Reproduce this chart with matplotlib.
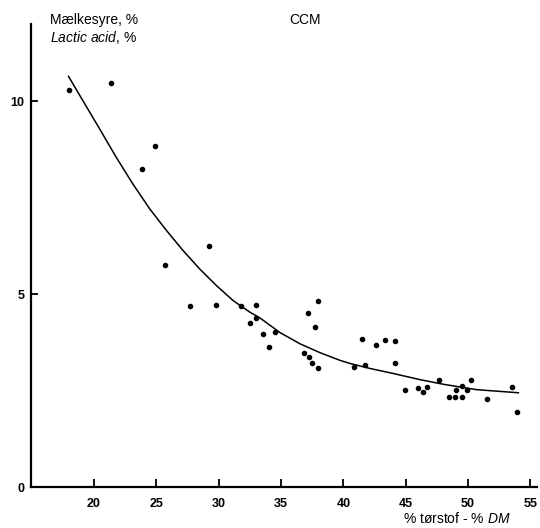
import matplotlib
matplotlib.use('Agg')
import matplotlib.pyplot as plt

plt.rcParams['font.family'] = ['Liberation Sans', 'DejaVu Sans']
plt.rcParams['mathtext.fontset'] = 'custom'
plt.rcParams['mathtext.rm'] = 'Liberation Sans'
plt.rcParams['mathtext.it'] = 'Liberation Sans:italic'

# Målinger: tørstof (%) og mælkesyre (%)
dm = [17.97, 21.40, 24.87, 23.83, 29.21, 25.67, 27.70, 29.77, 31.77, 33.03,
      32.98, 32.55, 33.57, 34.56, 34.02, 37.15, 37.98, 37.74, 36.83, 37.26,
      37.50, 37.93, 40.87, 41.75, 41.49, 42.58, 43.35, 44.11, 44.13, 44.91,
      45.98, 46.38, 46.70, 47.64, 48.49, 48.92, 49.03, 49.53, 49.51, 49.91,
      50.23, 51.52, 53.50, 53.90]
lactic = [10.30, 10.47, 8.85, 8.25, 6.26, 5.77, 4.69, 4.72, 4.69, 4.73,
          4.40, 4.26, 3.98, 4.03, 3.64, 4.51, 4.83, 4.16, 3.48, 3.37,
          3.22, 3.08, 3.11, 3.16, 3.85, 3.68, 3.81, 3.78, 3.22, 2.52,
          2.57, 2.47, 2.60, 2.78, 2.34, 2.33, 2.52, 2.33, 2.62, 2.51,
          2.79, 2.30, 2.59, 1.94]

# Tilpasset kurve
curve_x = [17.97, 19.12, 20.46, 21.80, 23.13, 24.47, 25.81, 27.14, 28.48,
           29.82, 31.16, 32.50, 33.31, 34.92, 36.52, 38.12, 39.73, 40.53,
           42.13, 43.99, 46.14, 48.01, 50.69, 54.03]
curve_y = [10.65, 10.02, 9.29, 8.55, 7.86, 7.22, 6.66, 6.14, 5.66,
           5.23, 4.84, 4.54, 4.39, 4.01, 3.72, 3.49, 3.29, 3.21,
           3.08, 2.95, 2.79, 2.67, 2.53, 2.45]

x_ticks = [20, 25, 30, 35, 40, 45, 50, 55]
y_ticks = [0, 5, 10]

fig = plt.figure(figsize=(5.4, 5.28), dpi=100)
ax = fig.add_axes([0.0583, 0.0771, 0.9356, 0.8769])

ax.plot(curve_x, curve_y, color='black', linewidth=1.1)
ax.scatter(dm, lactic, s=9, color='black', zorder=3)

ax.set_xlim(15, 55.5)
ax.set_ylim(0, 12)
ax.set_xticks(x_ticks)
ax.set_yticks(y_ticks)

for side in ['top', 'right']:
    ax.spines[side].set_visible(False)
ax.spines['left'].set_linewidth(1.6)
ax.spines['bottom'].set_linewidth(1.6)

ax.tick_params(axis='x', direction='in', length=6, width=1.3, pad=8,
               labelsize=9)
ax.tick_params(axis='y', direction='in', length=5, width=1.3, pad=5,
               labelsize=9)
for lbl in ax.get_xticklabels() + ax.get_yticklabels():
    lbl.set_fontweight('bold')
# ingen streg ved 0
ax.yaxis.get_major_ticks()[0].tick1line.set_visible(False)

fig.text(0.0926, 0.9545, 'Mælkesyre, %', fontsize=10, va='baseline')
fig.text(0.0926, 0.921, r'$\mathit{Lactic\ acid}$, %', fontsize=10,
         va='baseline')
fig.text(0.565, 0.9545, 'CCM', fontsize=10, ha='center', va='baseline')
fig.text(0.747, 0.009, r'% tørstof - % $\mathit{DM}$', fontsize=10,
         va='baseline')

fig.savefig('out.png', dpi=100)
